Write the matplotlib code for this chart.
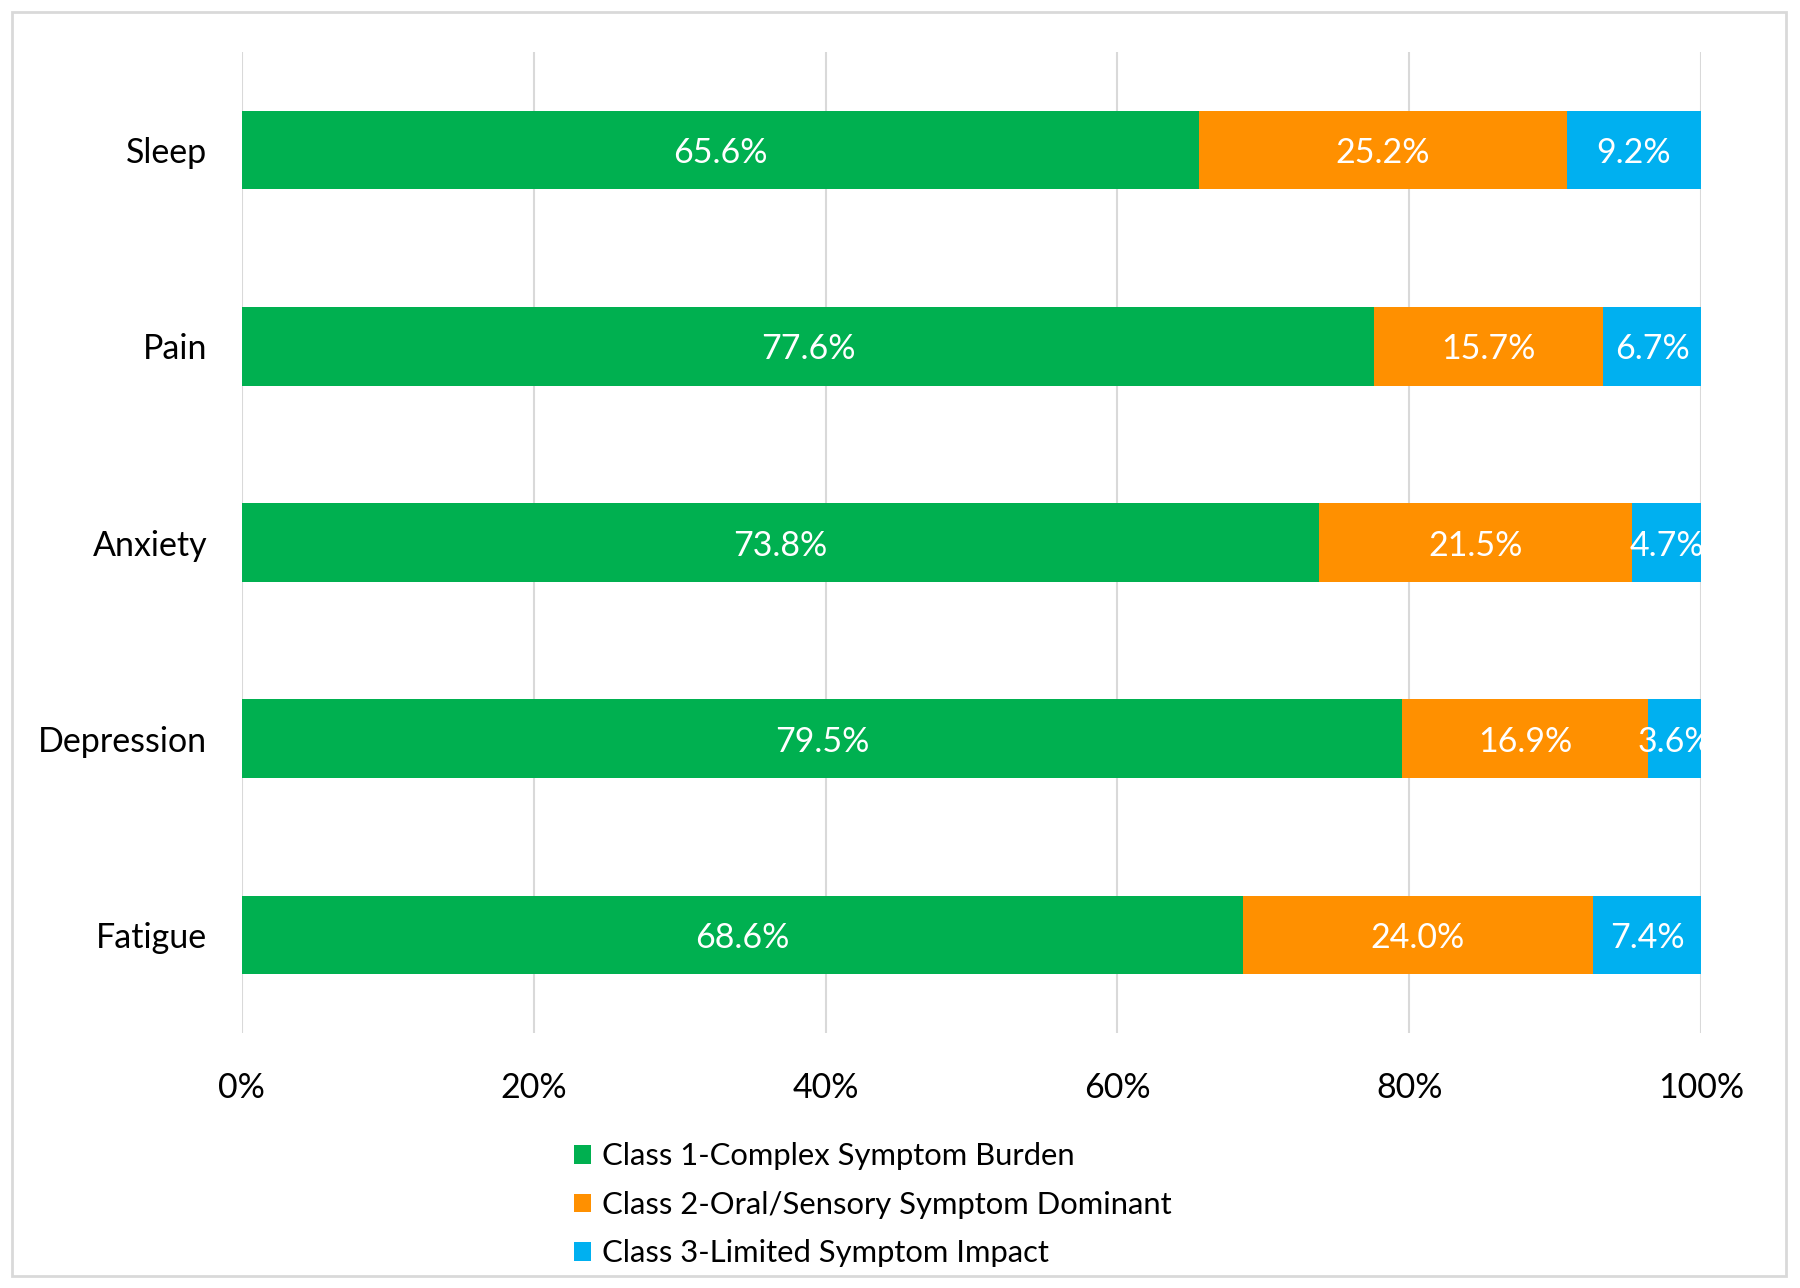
import matplotlib.pyplot as plt
import numpy as np
from matplotlib.patches import Patch, Rectangle

plt.rcParams['font.family'] = ['Lato', 'DejaVu Sans']

categories = ["Sleep", "Pain", "Anxiety", "Depression", "Fatigue"]
class1 = [65.6, 77.6, 73.8, 79.5, 68.6]
class2 = [25.2, 15.7, 21.5, 16.9, 24.0]
class3 = [9.2, 6.7, 4.7, 3.6, 7.4]
series_names = ["Class 1-Complex Symptom Burden",
                "Class 2-Oral/Sensory Symptom Dominant",
                "Class 3-Limited Symptom Impact"]
colors = ["#00B050", "#FF9000", "#00B0F0"]
xticks = [0, 20, 40, 60, 80, 100]

fig = plt.figure(figsize=(18, 12.88), dpi=100)
ax = fig.add_axes([0.1344, 0.198, 0.8106, 0.7616])

# outer frame
fig.patches.append(Rectangle((0.0067, 0.009), 0.9856, 0.982, transform=fig.transFigure,
                             fill=False, edgecolor="#D9D9D9", linewidth=2))

y = np.arange(len(categories))
left = np.zeros(len(categories))
for vals, name, col in zip([class1, class2, class3], series_names, colors):
    vals = np.array(vals)
    ax.barh(y, vals, left=left, height=0.4, color=col, label=name, zorder=3)
    for yi, l, v in zip(y, left, vals):
        ax.text(l + v / 2, yi, "%.1f%%" % v, ha="center", va="center_baseline",
                color="white", fontsize=24.5, zorder=4)
    left = left + vals

ax.set_ylim(len(categories) - 0.5, -0.5)
ax.set_xlim(0, 100)
ax.set_yticks(y)
ax.set_yticklabels(categories, fontsize=24.5)
ax.set_xticks(xticks)
ax.set_xticklabels(["%d%%" % t for t in xticks], fontsize=24.5)
ax.tick_params(length=0)
ax.tick_params(axis="y", pad=25)
ax.tick_params(axis="x", pad=28)
ax.grid(axis="x", color="#D9D9D9", linewidth=1.5, zorder=0)
for s in ax.spines.values():
    s.set_visible(False)

handles = [Patch(facecolor=c, label=n) for c, n in zip(colors, series_names)]
fig.legend(handles=handles, loc="upper left", bbox_to_anchor=(0.312, 0.1227),
           frameon=False, fontsize=22.3, handlelength=0.55, handleheight=0.55,
           handletextpad=0.35, labelspacing=0.66, borderaxespad=0)

fig.savefig("out.png", dpi=100, facecolor="white")
